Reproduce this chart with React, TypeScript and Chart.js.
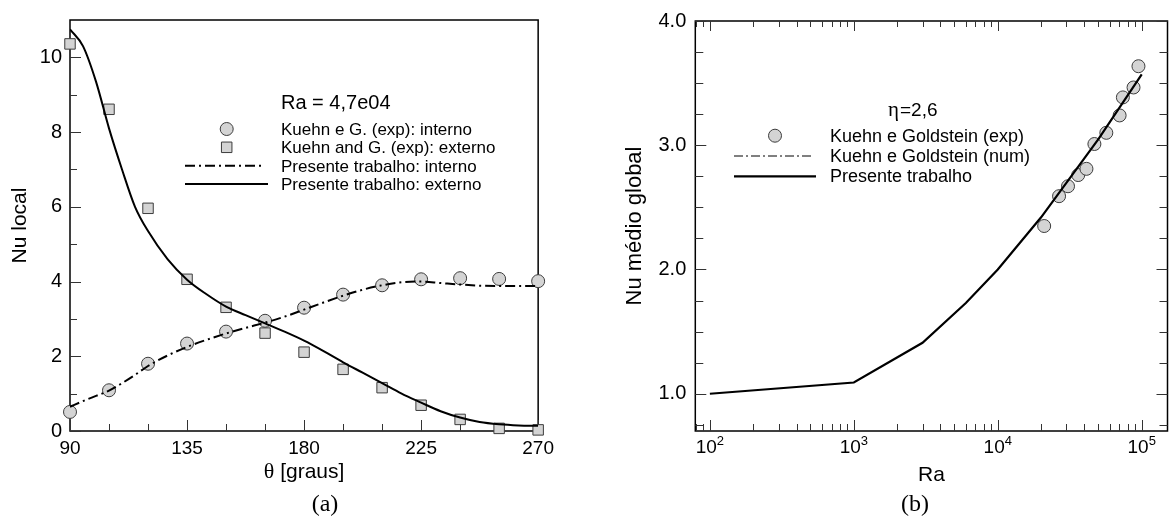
import React, { useEffect, useRef } from "react";
import { Chart, registerables } from "chart.js";
Chart.register(...registerables);

// ---------- Panel (a): local Nusselt ----------
const thetaExp = [90, 105, 120, 135, 150, 165, 180, 195, 210, 225, 240, 255, 270];
const nuInternoExp = [0.51, 1.09, 1.8, 2.34, 2.66, 2.95, 3.3, 3.65, 3.9, 4.06, 4.09, 4.07, 4.01];
const nuExternoExp = [10.36, 8.61, 5.96, 4.06, 3.31, 2.62, 2.11, 1.65, 1.16, 0.69, 0.31, 0.07, 0.03];
const thetaNum = [90, 95, 100, 105, 110, 115, 120, 127.5, 135, 142.5, 150, 157.5, 165, 172.5, 180, 187.5, 195, 202.5, 210, 217.5, 225, 232.5, 240, 247.5, 255, 262.5, 270];
const nuInternoNum = [0.65, 0.8, 0.94, 1.08, 1.28, 1.5, 1.74, 2.02, 2.25, 2.44, 2.61, 2.76, 2.9, 3.06, 3.25, 3.44, 3.62, 3.78, 3.9, 3.98, 4.0, 3.96, 3.92, 3.89, 3.88, 3.88, 3.88];
const nuExternoNum = [10.75, 10.3, 9.35, 8.1, 7.0, 6.0, 5.35, 4.6, 4.05, 3.66, 3.33, 3.1, 2.88, 2.66, 2.42, 2.14, 1.84, 1.56, 1.28, 1.0, 0.76, 0.53, 0.36, 0.24, 0.18, 0.15, 0.14];
const thetaTicks = [90, 135, 180, 225, 270];
const thetaMinor = [105, 120, 150, 165, 195, 210, 240, 255];
const nuLocalTicks = [0, 2, 4, 6, 8, 10];
const nuLocalMinor = [1, 3, 5, 7, 9];

// ---------- Panel (b): global Nusselt ----------
const raExp = [21000, 26650, 30750, 36200, 41300, 46900, 56750, 70200, 73960, 87700, 94900];
const nuGlobalExp = [2.35, 2.59, 2.67, 2.76, 2.81, 3.01, 3.1, 3.24, 3.385, 3.465, 3.636];
const raNum = [100, 1000, 3000, 6000, 10000, 20000, 50000, 100000];
const nuGlobalNum = [1.0, 1.09, 1.41, 1.73, 2.0, 2.42, 3.05, 3.57];
const raTicks = [100, 1000, 10000, 100000];
const raExponents = ["2", "3", "4", "5"];
const nuGlobalTicks = [1, 2, 3, 4];
const nuGlobalMinor = [0.75, 1.25, 1.5, 1.75, 2.25, 2.5, 2.75, 3.25, 3.5, 3.75];

const SANS = '"Liberation Sans", Arial, Helvetica, sans-serif';
const SERIF = '"Liberation Serif", "Times New Roman", serif';
const MARK_FILL = "#d4d4d4";
const MARK_EDGE = "#3c3c3c";
const DASHDOT = [10, 4, 2, 4];

function tickX(ctx: any, scale: any, vals: number[], y: number, len: number, dir: number) {
  for (const v of vals) {
    const p = Math.round(scale.getPixelForValue(v)) + 0.5;
    ctx.moveTo(p, y);
    ctx.lineTo(p, y + dir * len);
  }
}
function tickY(ctx: any, scale: any, vals: number[], x: number, len: number, dir: number) {
  for (const v of vals) {
    const p = Math.round(scale.getPixelForValue(v)) + 0.5;
    ctx.moveTo(x, p);
    ctx.lineTo(x + dir * len, p);
  }
}
function circle(ctx: any, x: number, y: number, r: number) {
  ctx.beginPath();
  ctx.arc(x, y, r, 0, Math.PI * 2);
  ctx.fillStyle = MARK_FILL;
  ctx.fill();
  ctx.lineWidth = 1;
  ctx.strokeStyle = MARK_EDGE;
  ctx.stroke();
}
function square(ctx: any, x: number, y: number, s: number) {
  ctx.beginPath();
  ctx.rect(x - s / 2, y - s / 2, s, s);
  ctx.fillStyle = MARK_FILL;
  ctx.fill();
  ctx.lineWidth = 1;
  ctx.strokeStyle = MARK_EDGE;
  ctx.stroke();
}
function seg(ctx: any, x1: number, x2: number, y: number, w: number, dash: number[]) {
  ctx.save();
  ctx.beginPath();
  ctx.setLineDash(dash);
  ctx.lineWidth = w;
  ctx.strokeStyle = "#000";
  ctx.moveTo(x1, y);
  ctx.lineTo(x2, y);
  ctx.stroke();
  ctx.restore();
}
function vtext(ctx: any, txt: string, x: number, y: number, font: string) {
  ctx.save();
  ctx.translate(x, y);
  ctx.rotate(-Math.PI / 2);
  ctx.font = font;
  ctx.textAlign = "center";
  ctx.textBaseline = "middle";
  ctx.fillStyle = "#000";
  ctx.fillText(txt, 0, 0);
  ctx.restore();
}

const panelAPlugin = {
  id: "panelA",
  beforeDatasetsDraw(chart: any) {
    const { ctx, chartArea: a, scales } = chart;
    ctx.save();
    ctx.strokeStyle = "#000";
    ctx.lineWidth = 1.5;
    ctx.strokeRect(a.left, a.top, a.right - a.left, a.bottom - a.top);
    ctx.beginPath();
    ctx.lineWidth = 1;
    ctx.strokeStyle = "#333";
    tickX(ctx, scales.x, thetaTicks, a.bottom, 11, -1);
    tickX(ctx, scales.x, thetaMinor, a.bottom, 7, -1);
    tickY(ctx, scales.y, nuLocalTicks, a.left, 11, 1);
    tickY(ctx, scales.y, nuLocalMinor, a.left, 7, 1);
    ctx.stroke();
    ctx.restore();
  },
  afterDraw(chart: any) {
    const { ctx, chartArea: a } = chart;
    ctx.save();
    ctx.fillStyle = "#000";
    // axis titles
    vtext(ctx, "Nu local", 20.5, (a.top + a.bottom) / 2, `21px ${SANS}`);
    ctx.textBaseline = "alphabetic";
    ctx.font = `22px ${SERIF}`;
    const th = "\u03b8";
    const wTh = ctx.measureText(th).width;
    ctx.font = `21px ${SANS}`;
    const rest = " [graus]";
    const wR = ctx.measureText(rest).width;
    const cx = (a.left + a.right) / 2;
    const sx = cx - (wTh + wR) / 2;
    ctx.font = `22px ${SERIF}`;
    ctx.textAlign = "left";
    ctx.fillText(th, sx, 478);
    ctx.font = `21px ${SANS}`;
    ctx.fillText(rest, sx + wTh, 478);
    ctx.font = `24px ${SERIF}`;
    ctx.textAlign = "center";
    ctx.fillText("(a)", 325, 511);
    // legend
    ctx.textAlign = "left";
    ctx.font = `20px ${SANS}`;
    ctx.fillText("Ra = 4,7e04", 281, 109);
    const rows = [135, 153.3, 171.7, 190];
    const labels = ["Kuehn e G. (exp): interno", "Kuehn and G. (exp): externo", "Presente trabalho: interno", "Presente trabalho: externo"];
    labels.forEach((t, i) => {
      ctx.fillStyle = "#000";
      ctx.font = `17px ${SANS}`;
      ctx.fillText(t, 281, rows[i]);
    });
    circle(ctx, 226.7, rows[0] - 6, 6.5);
    square(ctx, 226.7, rows[1] - 6, 10.5);
    seg(ctx, 185, 263, rows[2] - 6, 2, DASHDOT);
    seg(ctx, 185, 268, rows[3] - 6, 2, []);
    ctx.restore();
  },
};

const panelBPlugin = {
  id: "panelB",
  beforeDatasetsDraw(chart: any) {
    const { ctx, chartArea: a, scales } = chart;
    const minorRa: number[] = [];
    for (const d of [10, 100, 1000, 10000, 100000]) {
      for (let m = 2; m <= 9; m++) {
        const v = m * d;
        if (v > scales.x.min && v < scales.x.max) minorRa.push(v);
      }
    }
    ctx.save();
    ctx.strokeStyle = "#000";
    ctx.lineWidth = 1.5;
    ctx.strokeRect(a.left, a.top, a.right - a.left, a.bottom - a.top);
    ctx.beginPath();
    ctx.lineWidth = 1;
    ctx.strokeStyle = "#333";
    tickX(ctx, scales.x, raTicks, a.bottom, 11, -1);
    tickX(ctx, scales.x, minorRa, a.bottom, 7, -1);
    tickX(ctx, scales.x, raTicks, a.top, 10, 1);
    tickX(ctx, scales.x, minorRa, a.top, 6, 1);
    tickY(ctx, scales.y, nuGlobalTicks, a.left, 11, 1);
    tickY(ctx, scales.y, nuGlobalMinor, a.left, 8, 1);
    tickY(ctx, scales.y, nuGlobalTicks, a.right, 11, -1);
    tickY(ctx, scales.y, nuGlobalMinor, a.right, 8, -1);
    ctx.stroke();
    ctx.restore();
  },
  afterDraw(chart: any) {
    const { ctx, chartArea: a, scales } = chart;
    ctx.save();
    ctx.fillStyle = "#000";
    ctx.textBaseline = "alphabetic";
    // x tick labels 10^n
    raTicks.forEach((v, i) => {
      const p = scales.x.getPixelForValue(v);
      ctx.font = `19px ${SANS}`;
      const w1 = ctx.measureText("10").width;
      ctx.font = `13px ${SANS}`;
      const w2 = ctx.measureText(raExponents[i]).width;
      const s = p - (w1 + w2) / 2;
      ctx.textAlign = "left";
      ctx.font = `19px ${SANS}`;
      ctx.fillText("10", s, 453);
      ctx.font = `13px ${SANS}`;
      ctx.fillText(raExponents[i], s + w1, 445);
    });
    ctx.textAlign = "center";
    ctx.font = `21px ${SANS}`;
    ctx.fillText("Ra", (a.left + a.right) / 2, 481);
    ctx.font = `24px ${SERIF}`;
    ctx.fillText("(b)", 915 - 560, 511);
    vtext(ctx, "Nu m\u00e9dio global", 635 - 560, (a.top + a.bottom) / 2, `22px ${SANS}`);
    // legend
    const ox = -560;
    ctx.textAlign = "left";
    ctx.font = `21px ${SERIF}`;
    const eta = "\u03b7";
    ctx.fillText(eta, 888 + ox, 116);
    const we = ctx.measureText(eta).width;
    ctx.font = `19px ${SANS}`;
    ctx.fillText("=2,6", 888 + ox + we + 1, 116);
    const rows = [141.7, 162, 182.3];
    const labels = ["Kuehn e Goldstein (exp)", "Kuehn e Goldstein (num)", "Presente trabalho"];
    labels.forEach((t, i) => {
      ctx.fillStyle = "#000";
      ctx.font = `18px ${SANS}`;
      ctx.fillText(t, 830 + ox, rows[i]);
    });
    circle(ctx, 775 + ox, rows[0] - 6, 6.5);
    seg(ctx, 734 + ox, 812 + ox, rows[1] - 6, 1, [9, 3, 2, 3]);
    seg(ctx, 734 + ox, 816 + ox, rows[2] - 6, 2.2, []);
    ctx.restore();
  },
};

export default function App() {
  const refA = useRef<HTMLCanvasElement | null>(null);
  const refB = useRef<HTMLCanvasElement | null>(null);

  useEffect(() => {
    const tickFont = { family: SANS, size: 19 };
    const chartA = new Chart(refA.current as HTMLCanvasElement, {
      type: "scatter",
      data: {
        datasets: [
          {
            type: "line",
            label: "Presente trabalho: interno",
            data: thetaNum.map((x, i) => ({ x, y: nuInternoNum[i] })),
            borderColor: "#000",
            borderWidth: 2,
            borderDash: DASHDOT,
            pointRadius: 0,
            cubicInterpolationMode: "monotone",
            fill: false,
          } as any,
          {
            type: "line",
            label: "Presente trabalho: externo",
            data: thetaNum.map((x, i) => ({ x, y: nuExternoNum[i] })),
            borderColor: "#000",
            borderWidth: 2,
            pointRadius: 0,
            cubicInterpolationMode: "monotone",
            fill: false,
          } as any,
          {
            label: "Kuehn e G. (exp): interno",
            data: thetaExp.map((x, i) => ({ x, y: nuInternoExp[i] })),
            pointStyle: "circle",
            pointRadius: 6.5,
            backgroundColor: MARK_FILL,
            borderColor: MARK_EDGE,
            borderWidth: 1,
            clip: false,
          } as any,
          {
            label: "Kuehn and G. (exp): externo",
            data: thetaExp.map((x, i) => ({ x, y: nuExternoExp[i] })),
            pointStyle: "rect",
            pointRadius: 7.4,
            backgroundColor: MARK_FILL,
            borderColor: MARK_EDGE,
            borderWidth: 1,
            clip: false,
          } as any,
        ],
      },
      options: {
        animation: false,
        responsive: false,
        maintainAspectRatio: false,
        layout: { padding: { left: 0, top: 20, right: 15, bottom: 0 } },
        plugins: { legend: { display: false }, tooltip: { enabled: false } },
        scales: {
          x: {
            type: "linear",
            min: 90,
            max: 270,
            afterBuildTicks: (s: any) => {
              s.ticks = thetaTicks.map((v) => ({ value: v }));
            },
            afterFit: (s: any) => {
              s.height = 90;
            },
            grid: { display: false, drawTicks: false },
            border: { display: false },
            ticks: { font: tickFont, color: "#000", padding: 6, maxRotation: 0, autoSkip: false },
          },
          y: {
            type: "linear",
            min: 0,
            max: 11,
            afterBuildTicks: (s: any) => {
              s.ticks = nuLocalTicks.map((v) => ({ value: v }));
            },
            afterFit: (s: any) => {
              s.width = 70;
            },
            grid: { display: false, drawTicks: false },
            border: { display: false },
            ticks: { font: { family: SANS, size: 20 }, color: "#000", padding: 8, autoSkip: false },
          },
        },
      } as any,
      plugins: [panelAPlugin],
    });

    const chartB = new Chart(refB.current as HTMLCanvasElement, {
      type: "scatter",
      data: {
        datasets: [
          {
            type: "line",
            label: "Presente trabalho",
            data: raNum.map((x, i) => ({ x, y: nuGlobalNum[i] })),
            borderColor: "#000",
            borderWidth: 2.2,
            pointRadius: 0,
            tension: 0,
            fill: false,
          } as any,
          {
            label: "Kuehn e Goldstein (exp)",
            data: raExp.map((x, i) => ({ x, y: nuGlobalExp[i] })),
            pointStyle: "circle",
            pointRadius: 6.5,
            backgroundColor: MARK_FILL,
            borderColor: MARK_EDGE,
            borderWidth: 1,
            clip: false,
          } as any,
        ],
      },
      options: {
        animation: false,
        responsive: false,
        maintainAspectRatio: false,
        layout: { padding: { left: 0, top: 20, right: 4, bottom: 0 } },
        plugins: { legend: { display: false }, tooltip: { enabled: false } },
        scales: {
          x: {
            type: "logarithmic",
            min: 79.2,
            max: 151000,
            afterBuildTicks: (s: any) => {
              s.ticks = raTicks.map((v) => ({ value: v }));
            },
            afterFit: (s: any) => {
              s.height = 90;
            },
            grid: { display: false, drawTicks: false },
            border: { display: false },
            ticks: { display: false },
          },
          y: {
            type: "linear",
            min: 0.7,
            max: 4.0,
            afterBuildTicks: (s: any) => {
              s.ticks = nuGlobalTicks.map((v) => ({ value: v }));
            },
            afterFit: (s: any) => {
              s.width = 135.3;
            },
            grid: { display: false, drawTicks: false },
            border: { display: false },
            ticks: {
              font: { family: SANS, size: 20 },
              color: "#000",
              padding: 9,
              autoSkip: false,
              callback: (v: any) => Number(v).toFixed(1),
            },
          },
        },
      } as any,
      plugins: [panelBPlugin],
    });

    return () => {
      chartA.destroy();
      chartB.destroy();
    };
  }, []);

  return (
    <div
      style={{
        position: "fixed",
        left: 0,
        top: 0,
        width: 1169,
        height: 521,
        overflow: "hidden",
        background: "#fff",
      }}
    >
      <canvas
        ref={refA}
        width={560}
        height={521}
        style={{ position: "absolute", left: 0, top: 0, width: 560, height: 521 }}
      />
      <canvas
        ref={refB}
        width={615}
        height={521}
        style={{ position: "absolute", left: 560, top: 0, width: 615, height: 521 }}
      />
    </div>
  );
}
